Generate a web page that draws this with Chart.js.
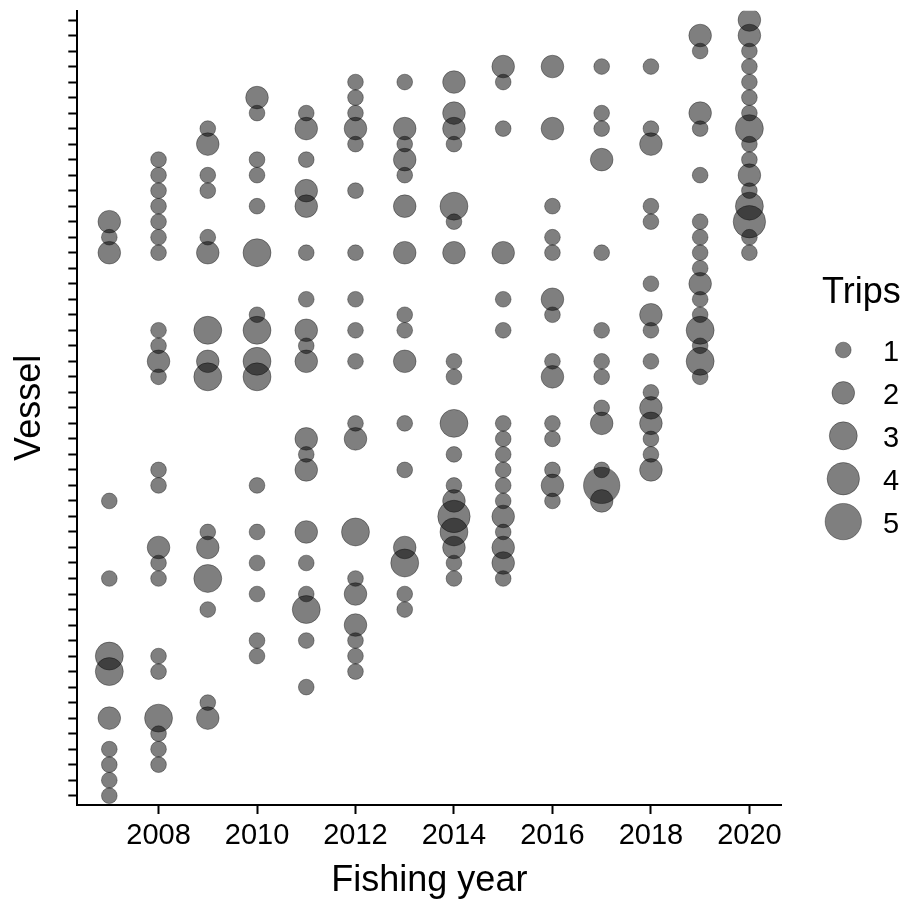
<!DOCTYPE html>
<html>
<head>
<meta charset="utf-8">
<title>Trips per vessel by fishing year</title>
<script src="https://cdn.jsdelivr.net/npm/chart.js@4.4.1/dist/chart.umd.min.js"></script>
<style>
  html, body { margin: 0; padding: 0; background: #ffffff; }
  #wrap { width: 904px; height: 900px; }
</style>
</head>
<body>
<div id="wrap"><canvas id="chart" width="904" height="900"></canvas></div>
<script>
// Trips per vessel, one list per fishing year: [vessel index, number of trips]
const fy2007 = [[37,2],[36,1],[35,2],[19,1],[14,1],[9,3],[8,3],[5,2],[3,1],[2,1],[1,1],[0,1]];
const fy2008 = [[41,1],[40,1],[39,1],[38,1],[37,1],[36,1],[35,1],[30,1],[29,1],[28,2],[27,1],[21,1],[20,1],[16,2],[15,1],[14,1],[9,1],[8,1],[5,3],[4,1],[3,1],[2,1]];
const fy2009 = [[43,1],[42,2],[40,1],[39,1],[36,1],[35,2],[30,3],[28,2],[27,3],[17,1],[16,2],[14,3],[12,1],[6,1],[5,2]];
const fy2010 = [[45,2],[44,1],[41,1],[40,1],[38,1],[35,3],[31,1],[30,3],[28,3],[27,3],[20,1],[17,1],[15,1],[13,1],[10,1],[9,1]];
const fy2011 = [[44,1],[43,2],[41,1],[39,2],[38,2],[35,1],[32,1],[30,2],[29,1],[28,2],[23,2],[22,1],[21,2],[17,2],[15,1],[13,1],[12,3],[10,1],[7,1]];
const fy2012 = [[46,1],[45,1],[44,1],[43,2],[42,1],[39,1],[35,1],[32,1],[30,1],[28,1],[24,1],[23,2],[17,3],[14,1],[13,2],[11,2],[10,1],[9,1],[8,1]];
const fy2013 = [[46,1],[43,2],[42,1],[41,2],[40,1],[38,2],[35,2],[31,1],[30,1],[28,2],[24,1],[21,1],[16,2],[15,3],[13,1],[12,1]];
const fy2014 = [[46,2],[44,2],[43,2],[42,1],[38,3],[37,1],[35,2],[28,1],[27,1],[24,3],[22,1],[20,1],[19,2],[18,4],[17,3],[16,2],[15,1],[14,1]];
const fy2015 = [[47,2],[46,1],[43,1],[35,2],[32,1],[30,1],[24,1],[23,1],[22,1],[21,1],[20,1],[19,1],[18,2],[17,1],[16,2],[15,2],[14,1]];
const fy2016 = [[47,2],[43,2],[38,1],[36,1],[35,1],[32,2],[31,1],[28,1],[27,2],[24,1],[23,1],[21,1],[20,2],[19,1]];
const fy2017 = [[47,1],[44,1],[43,1],[41,2],[35,1],[30,1],[28,1],[27,1],[25,1],[24,2],[21,1],[20,5],[19,2]];
const fy2018 = [[47,1],[43,1],[42,2],[38,1],[37,1],[33,1],[31,2],[30,1],[28,1],[26,1],[25,2],[24,2],[23,1],[22,1],[21,2]];
const fy2019 = [[49,2],[48,1],[44,2],[43,1],[40,1],[37,1],[36,1],[35,1],[34,1],[33,2],[32,1],[31,1],[30,3],[29,1],[28,3],[27,1]];
const fy2020 = [[50,2],[49,2],[48,1],[47,1],[46,1],[45,1],[44,1],[43,3],[42,1],[41,1],[40,2],[39,1],[38,3],[37,4],[36,1],[35,1]];

const fishingYears = [2007, 2008, 2009, 2010, 2011, 2012, 2013, 2014, 2015, 2016, 2017, 2018, 2019, 2020];
const tripsByYear = [fy2007, fy2008, fy2009, fy2010, fy2011, fy2012, fy2013, fy2014, fy2015, fy2016, fy2017, fy2018, fy2019, fy2020];
const yearTickLabels = [2008, 2010, 2012, 2014, 2016, 2018, 2020];
const vesselCount = 51;
const legendTrips = [1, 2, 3, 4, 5];

// Bubble area proportional to the number of trips
const tripRadius = n => 8.35 * Math.sqrt(n) - 0.5;
const FILL = 'rgba(0,0,0,0.5)';
const EDGE = 'rgba(0,0,0,0.35)';
const FONT = '"Liberation Sans", Arial, Helvetica, sans-serif';

const points = [];
fishingYears.forEach((year, k) => {
  tripsByYear[k].forEach(([vessel, trips]) => {
    points.push({ x: year, y: vessel, r: tripRadius(trips), trips });
  });
});

const vesselTicks = Array.from({ length: vesselCount }, (_, i) => ({ value: i }));

// Size legend drawn to the right of the panel
const tripsLegend = {
  id: 'tripsLegend',
  afterDraw(chart) {
    const ctx = chart.ctx;
    ctx.save();
    ctx.textAlign = 'left';
    ctx.textBaseline = 'alphabetic';
    ctx.fillStyle = '#000';
    ctx.font = '36px ' + FONT;
    ctx.fillText('Trips', 822, 303);
    legendTrips.forEach((n, k) => {
      const cy = 350 + 42.9 * k;
      ctx.beginPath();
      ctx.arc(843.3, cy, tripRadius(n), 0, Math.PI * 2);
      ctx.fillStyle = FILL;
      ctx.fill();
      ctx.lineWidth = 1;
      ctx.strokeStyle = EDGE;
      ctx.stroke();
      ctx.fillStyle = '#000';
      ctx.font = '29px ' + FONT;
      ctx.fillText(String(n), 883, cy + 11.3);
    });
    ctx.restore();
  }
};

Chart.defaults.font.family = FONT;
Chart.defaults.color = '#000';

new Chart(document.getElementById('chart'), {
  type: 'bubble',
  data: {
    datasets: [{
      label: 'Trips',
      data: points,
      backgroundColor: FILL,
      borderColor: EDGE,
      borderWidth: 1,
      hoverBorderWidth: 1,
      clip: 0
    }]
  },
  options: {
    responsive: false,
    devicePixelRatio: 1,
    animation: false,
    events: [],
    layout: { autoPadding: false, padding: { left: 0, top: 10.7, right: 122.6, bottom: 0 } },
    plugins: {
      legend: { display: false },
      tooltip: { enabled: false }
    },
    scales: {
      x: {
        type: 'linear',
        min: 2006.35,
        max: 2020.65,
        afterBuildTicks: s => { s.ticks = yearTickLabels.map(v => ({ value: v })); },
        afterFit: s => { s.height = 95; },
        ticks: {
          font: { size: 29 },
          color: '#000',
          padding: 5,
          maxRotation: 0,
          autoSkip: false,
          callback: v => String(v)
        },
        grid: { drawOnChartArea: false, drawTicks: true, tickLength: 9, tickColor: '#000', tickWidth: 2 },
        border: { display: true, color: '#000', width: 2 },
        title: { display: true, text: 'Fishing year', color: '#000', font: { size: 36, lineHeight: 1.05 }, padding: 0 }
      },
      y: {
        type: 'linear',
        min: -0.6,
        max: 50.6,
        afterBuildTicks: s => { s.ticks = vesselTicks.map(t => ({ value: t.value })); },
        afterFit: s => { s.width = 77.3; },
        ticks: { display: false, autoSkip: false },
        grid: { drawOnChartArea: false, drawTicks: true, tickLength: 9, tickColor: '#000', tickWidth: 2 },
        border: { display: true, color: '#000', width: 2 },
        title: { display: true, text: 'Vessel', color: '#000', font: { size: 36, lineHeight: 1.05 }, padding: { top: 11, bottom: 0 } }
      }
    }
  },
  plugins: [tripsLegend]
});
</script>
</body>
</html>
